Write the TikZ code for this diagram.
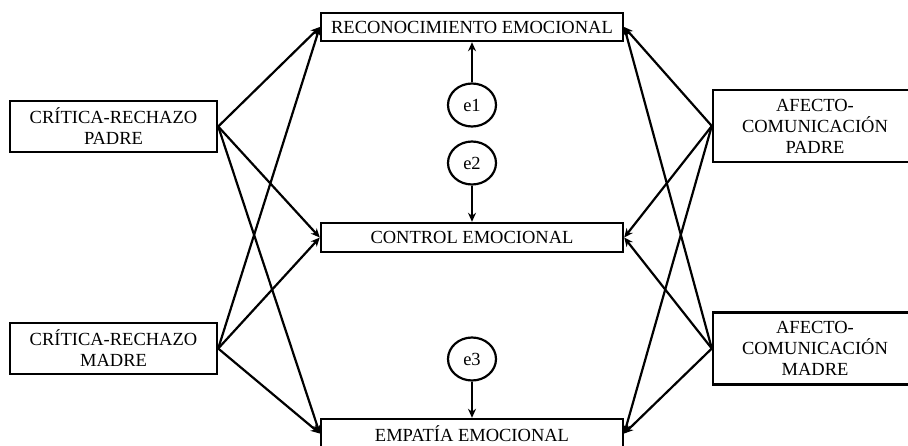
\documentclass[tikz,border=0pt]{standalone}
\usepackage{fontspec}
\setmainfont{Liberation Serif}
\usetikzlibrary{arrows.meta,shapes.geometric}
\begin{document}
\begin{tikzpicture}[x=1pt,y=-1pt,
  box/.style={draw,line width=2.4pt,rectangle,inner sep=0pt,align=center,font=\fontsize{18.5}{21}\selectfont},
  err/.style={draw,line width=2.2pt,ellipse,inner sep=0pt,minimum width=48pt,minimum height=43pt,font=\fontsize{18.5}{21}\selectfont},
  conn/.style={line width=2.2pt,-{Stealth[length=9pt,width=8pt]}}]
\useasboundingbox (0,0) rectangle (908,445);
\node[box,minimum width=207pt,minimum height=51pt] (crp) at (113.5,126.5) {CRÍTICA-RECHAZO\\PADRE};
\node[box,minimum width=207pt,minimum height=51pt] (crm) at (113.5,348.5) {CRÍTICA-RECHAZO\\MADRE};
\node[box,minimum width=302pt,minimum height=28pt] (rec) at (472,27) {RECONOCIMIENTO EMOCIONAL};
\node[box,minimum width=302pt,minimum height=29pt] (con) at (472,237.5) {CONTROL EMOCIONAL};
\node[box,minimum width=302pt,minimum height=29pt] (emp) at (472,433.5) {EMPATÍA EMOCIONAL};
\node[box,minimum width=204pt,minimum height=72pt] (acp) at (815,126) {AFECTO-\\COMUNICACIÓN\\PADRE};
\node[box,minimum width=204pt,minimum height=72pt] (acm) at (815,348.5) {AFECTO-\\COMUNICACIÓN\\MADRE};
\node[err] (e1) at (472,105) {e1};
\node[err] (e2) at (472,163) {e2};
\node[err] (e3) at (472,359) {e3};
\draw[conn] (e1) -- (rec);
\draw[conn] (e2) -- (con);
\draw[conn] (e3) -- (emp);
\foreach \s in {crp,crm}{
  \foreach \t in {rec,con,emp}{
    \draw[conn] (\s.east) -- (\t.west);
  }
}
\foreach \s in {acp,acm}{
  \foreach \t in {rec,con,emp}{
    \draw[conn] (\s.west) -- (\t.east);
  }
}
\end{tikzpicture}
\end{document}
